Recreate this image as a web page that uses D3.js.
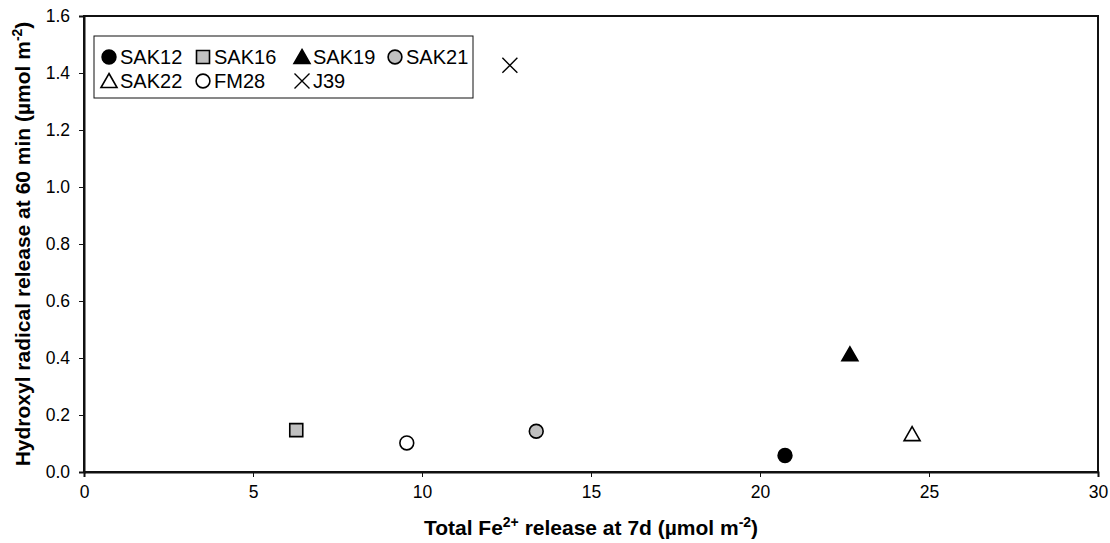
<!DOCTYPE html>
<html>
<head>
<meta charset="utf-8">
<script src="https://cdn.jsdelivr.net/npm/d3@7"></script>
<style>
  html, body { margin: 0; padding: 0; background: #fff; }
  svg { display: block; font-family: "Liberation Sans", Arial, sans-serif; }
</style>
</head>
<body>
<svg id="chart" width="1110" height="543"></svg>
<script>
// Samples and their measured values
const samples = ["SAK12", "SAK16", "SAK19", "SAK21", "SAK22", "FM28", "J39"];
const fe2Release = [20.74, 6.28, 22.66, 13.38, 24.5, 9.55, 12.6];      // µmol m-2 at 7 d
const ohRelease  = [0.058, 0.147, 0.413, 0.143, 0.133, 0.102, 1.427];   // µmol m-2 at 60 min
const markerShape = ["circle", "square", "triangle", "circle", "triangle", "circle", "x"];
const markerFill  = ["#000", "#c0c0c0", "#000", "#c0c0c0", "#fff", "#fff", "none"];

const xTicks = [0, 5, 10, 15, 20, 25, 30];
const yTicks = [0, 0.2, 0.4, 0.6, 0.8, 1.0, 1.2, 1.4, 1.6];

const svg = d3.select("#chart");
const plot = { left: 84, right: 1098, top: 16, bottom: 472 };

const x = d3.scaleLinear().domain([0, 30]).range([plot.left, plot.right]);
const y = d3.scaleLinear().domain([0, 1.6]).range([plot.bottom, plot.top]);

// Plot frame
svg.append("rect")
  .attr("x", plot.left).attr("y", plot.top)
  .attr("width", plot.right - plot.left).attr("height", plot.bottom - plot.top)
  .attr("fill", "none").attr("stroke", "#111").attr("stroke-width", 2);

// Axes
const xAxis = svg.append("g")
  .attr("transform", `translate(0,${plot.bottom})`)
  .call(d3.axisBottom(x).tickValues(xTicks).tickSize(5).tickPadding(9).tickFormat(d3.format("d")));
const yAxis = svg.append("g")
  .attr("transform", `translate(${plot.left},0)`)
  .call(d3.axisLeft(y).tickValues(yTicks).tickSize(5).tickPadding(9).tickFormat(d3.format(".1f")));

[xAxis, yAxis].forEach(g => {
  g.select(".domain").attr("stroke", "#111").attr("stroke-width", 2);
  g.selectAll(".tick line").attr("stroke", "#111").attr("stroke-width", 1);
  g.selectAll(".tick text").attr("fill", "#000").style("font-size", "17.5px")
    .style("font-family", "'Liberation Sans', Arial, sans-serif");
});

// Marker path generator
function markerPath(shape) {
  switch (shape) {
    case "circle":   return d3.symbol(d3.symbolCircle, 150)();
    case "square":   return "M-6.5,-6.5H6.5V6.5H-6.5Z";
    case "triangle": return "M0,-7.5L8,6.5H-8Z";
    case "x":        return "M-7.5,-7.5L7.5,7.5M7.5,-7.5L-7.5,7.5";
  }
}
function drawMarker(sel, i) {
  sel.append("path")
    .attr("d", markerPath(markerShape[i]))
    .attr("fill", markerFill[i])
    .attr("stroke", "#000")
    .attr("stroke-width", markerShape[i] === "x" ? 1.4 : 1.6);
}

// Data points
samples.forEach((s, i) => {
  const g = svg.append("g")
    .attr("class", "point")
    .attr("transform", `translate(${x(fe2Release[i])},${y(ohRelease[i])})`);
  drawMarker(g, i);
});

// Legend
const legend = svg.append("g").attr("transform", "translate(94,36)");
legend.append("rect")
  .attr("width", 379).attr("height", 62)
  .attr("fill", "#fff").attr("stroke", "#111").attr("stroke-width", 1);
const legendCols = [15, 109, 208, 301];
samples.forEach((s, i) => {
  const row = i < 4 ? 0 : 1;
  const col = i < 4 ? i : i - 4;
  const item = legend.append("g")
    .attr("transform", `translate(${legendCols[col]},${row === 0 ? 21 : 45})`);
  drawMarker(item, i);
  item.append("text")
    .attr("x", 11).attr("y", 7)
    .style("font-size", "20px")
    .text(s);
});

// Axis titles
const xTitle = svg.append("text")
  .attr("x", (plot.left + plot.right) / 2).attr("y", 535)
  .attr("text-anchor", "middle")
  .style("font-size", "21px").style("font-weight", "bold");
xTitle.append("tspan").text("Total Fe");
xTitle.append("tspan").attr("dy", -8).style("font-size", "14px").text("2+");
xTitle.append("tspan").attr("dy", 8).text(" release at 7d (\u00b5mol m");
xTitle.append("tspan").attr("dy", -8).style("font-size", "14px").text("-2");
xTitle.append("tspan").attr("dy", 8).text(")");

const yTitle = svg.append("text")
  .attr("transform", `translate(30,${(plot.top + plot.bottom) / 2}) rotate(-90)`)
  .attr("text-anchor", "middle")
  .style("font-size", "21px").style("font-weight", "bold");
yTitle.append("tspan").text("Hydroxyl radical release at 60 min (\u00b5mol m");
yTitle.append("tspan").attr("dy", -8).style("font-size", "14px").text("-2");
yTitle.append("tspan").attr("dy", 8).text(")");
</script>
</body>
</html>
